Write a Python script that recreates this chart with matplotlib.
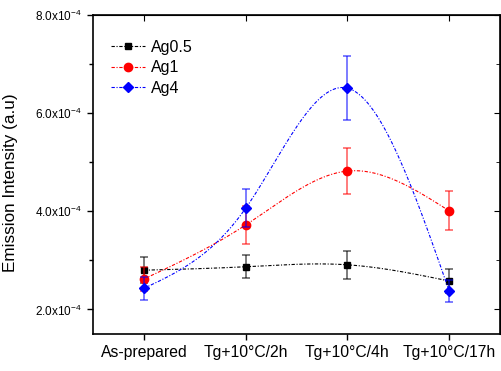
import numpy as np
import matplotlib
matplotlib.use("Agg")
import matplotlib.pyplot as plt
from matplotlib.ticker import FixedLocator, FuncFormatter

plt.rcParams['font.family'] = ['Liberation Sans', 'DejaVu Sans']
plt.rcParams['mathtext.fontset'] = 'custom'
plt.rcParams['mathtext.rm'] = 'Liberation Sans'

# data
categories = ["As-prepared", "Tg+10°C/2h", "Tg+10°C/4h", "Tg+10°C/17h"]
ag05 = [2.80e-4, 2.87e-4, 2.91e-4, 2.58e-4]
ag05_err = [0.27e-4, 0.23e-4, 0.28e-4, 0.25e-4]
ag1 = [2.62e-4, 3.72e-4, 4.82e-4, 4.01e-4]
ag1_err = [0.25e-4, 0.38e-4, 0.47e-4, 0.40e-4]
ag4 = [2.43e-4, 4.06e-4, 6.51e-4, 2.38e-4]
ag4_err = [0.23e-4, 0.39e-4, 0.65e-4, 0.23e-4]


def natural_spline(x, y, n=200):
    # plain natural cubic spline, only used to draw the connecting curve
    x = np.asarray(x, float)
    y = np.asarray(y, float)
    k = len(x)
    h = np.diff(x)
    A = np.zeros((k, k))
    b = np.zeros(k)
    A[0, 0] = A[-1, -1] = 1
    for i in range(1, k - 1):
        A[i, i - 1] = h[i - 1]
        A[i, i] = 2 * (h[i - 1] + h[i])
        A[i, i + 1] = h[i]
        b[i] = 6 * ((y[i + 1] - y[i]) / h[i] - (y[i] - y[i - 1]) / h[i - 1])
    M = np.linalg.solve(A, b)
    xs = np.linspace(x[0], x[-1], n)
    ys = np.empty_like(xs)
    for j, t in enumerate(xs):
        i = min(np.searchsorted(x, t, side='right') - 1, k - 2)
        a, c = x[i], x[i + 1]
        hi = c - a
        ys[j] = (M[i] * (c - t) ** 3 / (6 * hi) + M[i + 1] * (t - a) ** 3 / (6 * hi)
                 + (y[i] / hi - M[i] * hi / 6) * (c - t)
                 + (y[i + 1] / hi - M[i + 1] * hi / 6) * (t - a))
    return xs, ys


fig = plt.figure(figsize=(5.01, 3.71), dpi=100)
ax = fig.add_axes([0.1856, 0.0997, 0.8124, 0.86])

dashdot = (0, (3, 1.5, 1, 1.5))
xpos = np.arange(len(categories))
series = [
    ("Ag0.5", ag05, ag05_err, "black", "s", 5),
    ("Ag1", ag1, ag1_err, "red", "o", 6),
    ("Ag4", ag4, ag4_err, "blue", "D", 5),
]
for name, vals, errs, col, mk, ms in series:
    xs, ys = natural_spline(xpos, vals)
    ax.plot(xs, ys, ls=dashdot, lw=0.8, color=col)
    ax.errorbar(xpos, vals, yerr=errs, fmt='none', ecolor=col, elinewidth=1.2,
                capsize=3, capthick=1.2, alpha=0.6)
    ax.plot(xpos, vals, ls='none', marker=mk, ms=ms, color=col)
    ax.plot([], [], ls=dashdot, lw=0.8, color=col, marker=mk, ms=ms, label=name)

ax.set_xlim(-0.5, 3.5)
ax.set_ylim(1.5e-4, 8.0e-4)
ax.set_xticks(xpos)
ax.set_xticklabels(categories, fontsize=11.3)
ax.yaxis.set_major_locator(FixedLocator([2e-4, 4e-4, 6e-4, 8e-4]))
ax.yaxis.set_minor_locator(FixedLocator([3e-4, 5e-4, 7e-4]))
ax.yaxis.set_major_formatter(FuncFormatter(
    lambda v, p: r'$\mathregular{%.1fx10^{-4}}$' % (v * 1e4)))
ax.tick_params(axis='y', labelsize=8.5)
ax.tick_params(which='both', direction='out', width=1, top=False, right=False)
ax.tick_params(which='major', length=4.5)
ax.tick_params(which='minor', length=3)
# mirrored inward ticks on top and right
sec = ax.secondary_xaxis('top')
sec.set_xticks(xpos)
sec.tick_params(direction='in', length=4, labeltop=False)
secy = ax.secondary_yaxis('right')
secy.yaxis.set_major_locator(FixedLocator([2e-4, 4e-4, 6e-4, 8e-4]))
secy.yaxis.set_minor_locator(FixedLocator([3e-4, 5e-4, 7e-4]))
secy.tick_params(which='both', direction='in', labelright=False)
secy.tick_params(which='major', length=4)
secy.tick_params(which='minor', length=3)
for s in ax.spines.values():
    s.set_linewidth(1.2)

ax.set_ylabel("Emission Intensity (a.u)", fontsize=12.3)
ax.yaxis.set_label_coords(-0.185, 0.475)
ax.legend(loc='upper left', frameon=False, fontsize=11.5, handlelength=2.1,
          handletextpad=0.4, labelspacing=0.35,
          bbox_to_anchor=(0.01, 0.967))

fig.savefig("out.png", dpi=100)
